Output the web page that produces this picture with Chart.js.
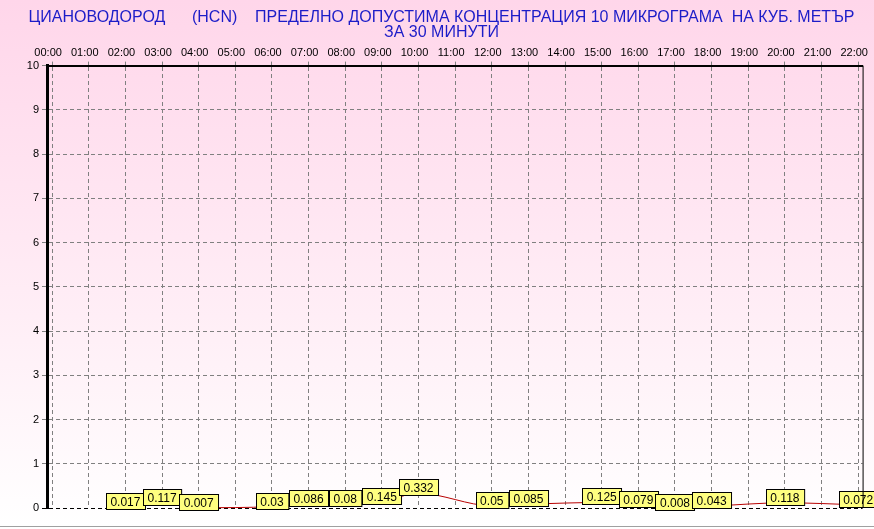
<!DOCTYPE html>
<html>
<head>
<meta charset="utf-8">
<script src="https://cdn.jsdelivr.net/npm/chart.js@4.4.1/dist/chart.umd.min.js"></script>
<style>
  html, body { margin: 0; padding: 0; background: #fff; }
  #wrap {
    width: 874px; height: 526px;
    background: linear-gradient(to bottom, #ffd6ea 0%, #ffeef6 60%, #ffffff 100%);
    border-bottom: 1px solid #a0a0a0;
  }
  canvas { display: block; }
</style>
</head>
<body>
<div id="wrap"><canvas id="chart" width="874" height="526"></canvas></div>
<script>
const hours = [0, 1, 2, 3, 4, 5, 6, 7, 8, 9, 10, 11, 12, 13, 14, 15, 16, 17, 18, 19, 20, 21, 22];
const hcnValues = [null, null, 0.017, 0.117, 0.007, null, 0.03, 0.086, 0.08, 0.145, 0.332, null,
  0.05, 0.085, null, 0.125, 0.079, 0.008, 0.043, null, 0.118, null, 0.072];
const yTicks = [0, 1, 2, 3, 4, 5, 6, 7, 8, 9, 10];
const titleLines = [
  'ЦИАНОВОДОРОД      (HCN)    ПРЕДЕЛНО ДОПУСТИМА КОНЦЕНТРАЦИЯ 10 МИКРОГРАМА  НА КУБ. МЕТЪР',
  'ЗА 30 МИНУТИ'
];

const points = hours.map((h, i) => ({ x: h, y: hcnValues[i] }));

// small red rectangle marker
const marker = document.createElement('canvas');
marker.width = 10; marker.height = 6;
const mctx = marker.getContext('2d');
mctx.fillStyle = '#e00000';
mctx.fillRect(0, 0, 10, 6);
mctx.strokeStyle = '#900000';
mctx.strokeRect(0.5, 0.5, 9, 5);

const boxLabels = {
  id: 'boxLabels',
  afterDatasetsDraw(chart) {
    const ctx = chart.ctx;
    const meta = chart.getDatasetMeta(0);
    ctx.save();
    ctx.font = '12px "Liberation Sans", Arial, sans-serif';
    ctx.textAlign = 'center';
    ctx.textBaseline = 'middle';
    meta.data.forEach((pt, i) => {
      const v = hcnValues[i];
      if (v === null) return;
      const txt = String(v);
      const w = ctx.measureText(txt).width + 9;
      const h = 16;
      const x = Math.round(pt.x - w / 2) + 0.5;
      const y = Math.round(pt.y + 2 - h) + 0.5;
      ctx.fillStyle = '#ffff80';
      ctx.fillRect(x, y, w, h);
      ctx.strokeStyle = '#000';
      ctx.lineWidth = 1;
      ctx.strokeRect(x, y, w, h);
      ctx.fillStyle = '#000';
      ctx.fillText(txt, pt.x, y + h / 2 + 1);
    });
    // right frame line
    const a = chart.chartArea;
    ctx.beginPath();
    ctx.moveTo(a.right + 0.5, a.top);
    ctx.lineTo(a.right + 0.5, a.bottom);
    ctx.strokeStyle = '#000';
    ctx.stroke();
    ctx.restore();
  }
};

new Chart('chart', {
  type: 'line',
  data: {
    datasets: [{
      data: points,
      borderColor: '#b80000',
      borderWidth: 1,
      tension: 0.4,
      cubicInterpolationMode: 'monotone',
      spanGaps: true,
      pointStyle: marker,
      pointRadius: 4,
      clip: false
    }]
  },
  options: {
    responsive: false,
    animation: false,
    layout: { padding: { left: 18, right: 9, bottom: 18, top: 10 } },
    plugins: {
      legend: { display: false },
      tooltip: { enabled: false },
      title: {
        display: true,
        text: titleLines,
        color: '#1c1cc8',
        font: { family: '"Liberation Sans", Arial, sans-serif', size: 16, weight: 'normal', lineHeight: 0.95 },
        padding: { top: 0, bottom: 4 }
      }
    },
    scales: {
      x: {
        type: 'linear',
        position: 'top',
        min: -0.14,
        max: 22.12,
        afterBuildTicks: (scale) => { scale.ticks = hours.map((h) => ({ value: h })); },
        ticks: {
          autoSkip: false,
          maxRotation: 0,
          labelOffset: -4,
          padding: 2,
          color: '#000',
          font: { family: '"Liberation Sans", Arial, sans-serif', size: 11 },
          callback: (v) => String(v).padStart(2, '0') + ':00'
        },
        grid: { color: '#808080', tickLength: 4, drawTicks: true },
        border: { color: '#000', width: 2, dash: [4, 3] }
      },
      y: {
        min: 0,
        max: 10,
        afterBuildTicks: (scale) => { scale.ticks = yTicks.map((v) => ({ value: v })); },
        afterFit: (scale) => { scale.width = 29; },
        ticks: {
          color: '#000',
          padding: 3,
          font: { family: '"Liberation Sans", Arial, sans-serif', size: 11 }
        },
        grid: {
          color: (c) => (c.tick && c.tick.value === 0 ? '#000' : '#808080'),
          tickLength: 5
        },
        border: { color: '#000', width: 3, dash: [4, 3] }
      }
    }
  },
  plugins: [boxLabels]
});
</script>
</body>
</html>
